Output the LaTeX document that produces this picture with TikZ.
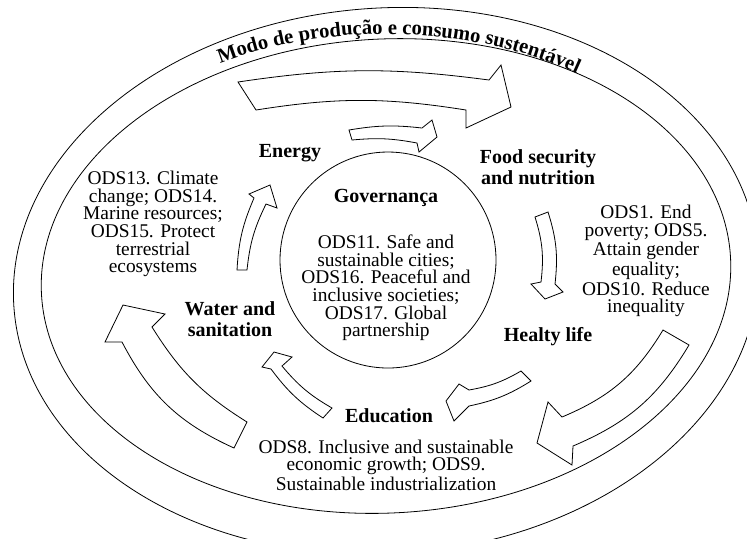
\documentclass[tikz,border=0pt]{standalone}
\usepackage{fontspec}
\setmainfont{Liberation Serif}
\usetikzlibrary{decorations.text}

\tikzstyle{goal}=[font=\fontsize{10}{10.3}\selectfont\bfseries, align=center, inner sep=0pt]
\tikzstyle{ods}=[font=\fontsize{9.7}{8.8}\selectfont, align=center, inner sep=0pt]
\tikzstyle{flow}=[draw=black, fill=white, line width=0.4pt, line join=miter]

\begin{document}
\begin{tikzpicture}[x=0.5pt, y=-0.5pt]
        \useasboundingbox (0,0) rectangle (747,538);
        \clip (0,0) rectangle (747,538);
        % outer rings
        \draw[rotate around={4:(386,281)}] (386,281) ellipse[x radius=373, y radius=273];
        \draw[rotate around={3:(386,276)}] (386,276) ellipse[x radius=345, y radius=237];
        \path[decorate, decoration={text along path, text align=center,
            text={|\fontsize{10.3}{11}\selectfont\bfseries|Modo de produção e consumo sustentável}}]
            (386,280) ++(-130:351 and 246) arc[start angle=-130, end angle=-45, x radius=351, y radius=246];
        % governance in the middle
        \node[draw, circle, minimum size=108pt, inner sep=0pt] (ring) at (388,260) {};
        \node[goal] (gov) at (386,198) {Governança};
        \node[ods] (ods11) at (386,288) {ODS11. Safe and\\sustainable cities;\\ODS16. Peaceful and\\inclusive societies;\\ODS17. Global\\partnership};
        % the five goals
        \node[goal] (energy) at (290,153) {Energy};
        \node[goal] (food) at (538,167) {Food security\\and nutrition};
        \node[goal] (health) at (548,337) {Healty life};
        \node[goal] (edu) at (389,416) {Education};
        \node[goal] (water) at (230,319) {Water and\\sanitation};
        \node[ods] (ods1) at (646,261) {ODS1. End\\poverty; ODS5.\\Attain gender\\equality;\\ODS10. Reduce\\inequality};
        \node[ods] (ods8) at (386,465) {ODS8. Inclusive and sustainable\\economic growth; ODS9.\\Sustainable industrialization};
        \node[ods] (ods13) at (153,224) {ODS13. Climate\\change; ODS14.\\Marine resources;\\ODS15. Protect\\terrestrial\\ecosystems};
        % small arrows between the goals
        \draw[flow] (349,130) to[bend left=8] (422,128) -- (432,120) -- (437,137) -- (419,152) -- (417,143) to[bend right=8] (352,140) -- cycle;
        \draw[flow] (535,217) to[bend left=12] (541,282) -- (531,284) -- (545,299) -- (563,292) -- (555,284) to[bend right=12] (548,212) -- cycle;
        \draw[flow] (521,371) to[bend left=10] (469,390) -- (459,384) -- (446,401) -- (454,421) -- (469,406) to[bend right=10] (531,381) -- cycle;
        \draw[flow] (332,408) to[bend left=10] (282,366) -- (292,357) -- (274,352) -- (262,367) -- (271,369) to[bend right=10] (323,418) -- cycle;
        \draw[flow] (247,270) to[bend left=10] (266,204) -- (277,208) -- (270,185) -- (249,194) -- (254,198) to[bend right=10] (237,270) -- cycle;
        % big arrows
        \draw[flow] (238,82) to[bend left=8] (489,80) -- (501,65) -- (511,107) -- (466,128) -- (466,110) to[bend right=9] (256,110) -- cycle;
        \draw[flow] (663,330) -- (689,345) to[bend left=18] (573,446) -- (572,465) -- (537,443) -- (548,402) -- (562,417) to[bend right=18] (663,330) -- cycle;
        \draw[flow] (247,422) -- (234,448) to[bend left=19] (122,342) -- (105,342) -- (123,305) -- (165,314) -- (152,327) to[bend right=13] (247,422) -- cycle;
\end{tikzpicture}
\end{document}
